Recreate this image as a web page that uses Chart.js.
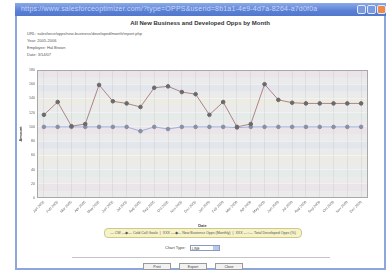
<!DOCTYPE html>
<html><head><meta charset="utf-8">
<script src="https://cdn.jsdelivr.net/npm/chart.js@4.4.1/dist/chart.umd.min.js"></script>
<style>
html,body{margin:0;padding:0;background:#fff;width:391px;height:276px;overflow:hidden;font-family:"Liberation Sans",Arial,sans-serif;}
#win{position:absolute;left:15px;top:3px;width:371px;height:267px;border:2px solid #8ea6dc;border-top:none;background:#fff;box-sizing:border-box;}
#bar{position:absolute;left:15px;top:3px;width:371px;height:13px;background:linear-gradient(#8aaae6,#5a80d6 60%,#5278cc);}
#bar .u{position:absolute;left:6px;top:2px;font-size:7px;color:#c8d6f6;white-space:nowrap;letter-spacing:0.2px;}
.wb{position:absolute;top:2px;width:9px;height:9px;border:1px solid #e0e8ff;border-radius:2px;box-sizing:border-box;background:#7a9ae0;}
#title{position:absolute;left:15px;width:370px;top:20px;text-align:center;font-size:6px;font-weight:bold;color:#333;}
.info{position:absolute;left:27px;font-size:4px;color:#555;white-space:nowrap;}
#chartBox{position:absolute;left:18px;top:60px;width:360px;height:168px;}
#legend{position:absolute;left:104px;top:228px;width:196px;height:8px;background:#f6f3c8;border:1px solid #cfc88a;border-radius:4px;font-size:3.6px;color:#555;line-height:8px;text-align:center;white-space:nowrap;}
#ctype{position:absolute;left:165px;top:245px;font-size:4px;color:#444;}
#ctype span.sel{display:inline-block;width:30px;height:6px;border:1px solid #8a9ab8;vertical-align:middle;margin-left:3px;position:relative;font-size:3.5px;line-height:6px;padding-left:1px;box-sizing:border-box;}
#ctype span.sel i{position:absolute;right:0;top:0;width:6px;height:4px;background:#b8c8ec;}
#rule{position:absolute;left:72px;top:257px;width:258px;height:1px;background:#c4c4c4;}
.btn{position:absolute;top:263px;height:7px;width:28px;border:1px solid #999;background:#f2f2f2;font-size:3.6px;line-height:7px;text-align:center;color:#444;box-sizing:border-box;}
</style></head><body>
<div id="win"></div>
<div id="bar"><span class="u">https://www.salesforceoptimizer.com/?type=OPPS&amp;userid=8b1a1-4e9-4d7a-8264-a7d0f0a</span>
<span class="wb" style="left:342px"></span><span class="wb" style="left:352px"></span><span class="wb" style="left:362px;background:#ec8a4a;"></span></div>
<div id="title">All New Business and Developed Opps by Month</div>
<div class="info" style="top:31px">URL: salesforce/opps/new-business/developed/month/report.php</div>
<div class="info" style="top:38px">Year: 2005-2006</div>
<div class="info" style="top:45px">Employee: Hal Brown</div>
<div class="info" style="top:52px">Date: 3/14/07</div>
<div id="chartBox"><canvas id="c" width="360" height="168"></canvas></div>
<div id="legend">— CW —◆— Cold Call Goals &nbsp;|&nbsp; XXX —◆— New Business Opps (Monthly) &nbsp;|&nbsp; XXX —○— Total Developed Opps (%)</div>
<div id="ctype">Chart Type: <span class="sel">LINE<i></i></span></div>
<div id="rule"></div>
<div class="btn" style="left:143px">Print</div>
<div class="btn" style="left:179px">Export</div>
<div class="btn" style="left:215px">Close</div>
<script>
const months = ["Jan 2005","Feb 2005","Mar 2005","Apr 2005","May 2005","Jun 2005","Jul 2005","Aug 2005","Sep 2005","Oct 2005","Nov 2005","Dec 2005","Jan 2006","Feb 2006","Mar 2006","Apr 2006","May 2006","Jun 2006","Jul 2006","Aug 2006","Sep 2006","Oct 2006","Nov 2006","Dec 2006"];
const newBusiness = [117,135,101,104,159,136,133,128,155,157,149,146,117,135,100,104,160,138,134,133,133,133,133,133];
const developed = [100,100,100,100,100,100,100,94,100,97,100,100,100,100,99,100,100,100,100,100,100,100,100,100];
const yTicks = {min:0,max:180,step:20};

const bgPlugin = {
  id:'bg',
  beforeDraw(chart){
    const {ctx, chartArea:a} = chart;
    ctx.save();
    ctx.fillStyle = '#ebebeb';
    ctx.fillRect(a.left,a.top,a.right-a.left,a.bottom-a.top);
    const bands = ['rgba(235,215,225,0.35)','rgba(215,235,225,0.35)','rgba(238,238,215,0.3)','rgba(215,222,242,0.35)'];
    const ys = chart.scales.y;
    for(let v=yTicks.min, i=0; v<yTicks.max; v+=yTicks.step, i++){
      const y1 = ys.getPixelForValue(v+yTicks.step), y0 = ys.getPixelForValue(v);
      ctx.fillStyle = bands[i%bands.length];
      ctx.fillRect(a.left,y1,a.right-a.left,(y0-y1)/2);
    }
    ctx.restore();
  },
  afterDraw(chart){
    const {ctx, chartArea:a} = chart;
    ctx.save();
    ctx.strokeStyle='#a8a8a8'; ctx.lineWidth=1;
    ctx.strokeRect(a.left+0.5,a.top+0.5,a.right-a.left-1,a.bottom-a.top-1);
    ctx.restore();
  }
};

new Chart(document.getElementById('c'),{
  type:'line',
  data:{labels:months,datasets:[
    {label:'New Business Opps',data:newBusiness,borderColor:'#b08484',borderWidth:1,pointRadius:1.8,pointBackgroundColor:'#6a6a6a',pointBorderColor:'#6a6a6a',pointStyle:'circle',tension:0},
    {label:'Total Developed Opps',data:developed,borderColor:'#9cb0e2',borderWidth:1,pointRadius:1.8,pointBackgroundColor:'#8a90a4',pointBorderColor:'#8a90a4',tension:0}
  ]},
  options:{
    responsive:false,animation:false,
    layout:{padding:{top:10,right:10,left:0,bottom:0}},
    plugins:{legend:{display:false},tooltip:{enabled:false}},
    scales:{
      x:{offset:true,
        grid:{color:'rgba(190,190,190,0.5)',lineWidth:0.6,drawTicks:false,offset:false},
        border:{display:false},
        ticks:{font:{size:3.6,family:'Liberation Sans'},color:'#666',maxRotation:45,minRotation:45,autoSkip:false,padding:2},
        title:{display:true,text:'Date',font:{size:4,weight:'bold',family:'Liberation Sans'},color:'#444',padding:{top:1,bottom:0}},
        afterFit(s){s.height=30;}
      },
      y:{min:yTicks.min,max:yTicks.max,
        ticks:{stepSize:yTicks.step,font:{size:3.6,family:'Liberation Sans'},color:'#666',padding:2},
        grid:{color:'rgba(255,255,255,0.6)',lineWidth:0.6,drawTicks:false},
        border:{display:false},
        title:{display:true,text:'Amount',font:{size:4,weight:'bold',family:'Liberation Sans'},color:'#444',padding:{top:0,bottom:1}},
        afterFit(s){s.width=19;}
      }
    }
  },
  plugins:[bgPlugin]
});
</script>
</body></html>
